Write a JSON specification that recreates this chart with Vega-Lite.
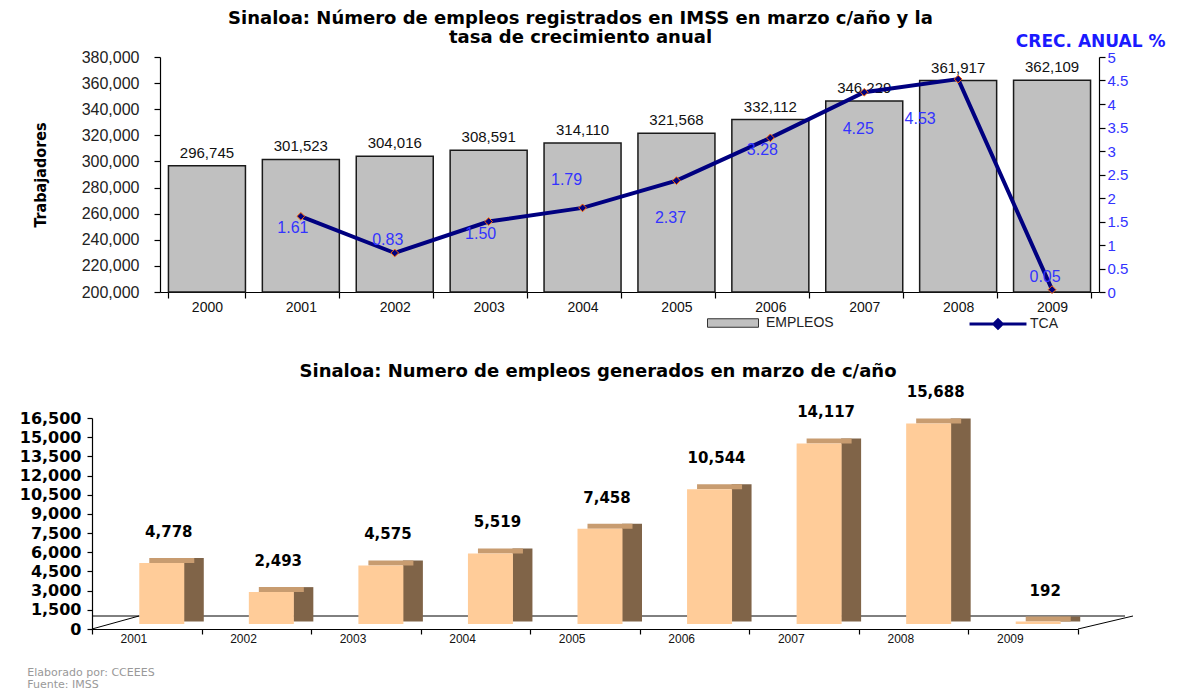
{
  "$schema": "https://vega.github.io/schema/vega-lite/v6.json",
  "background": "white",
  "padding": {"left": 19, "top": 10, "right": 5, "bottom": 0},
  "config": {
    "font": "Liberation Sans",
    "view": {"stroke": null},
    "axis": {"grid": false, "domainColor": "#000", "tickColor": "#000", "labelColor": "#111", "domainWidth": 1.2, "tickWidth": 1.2}
  },
  "align": "none",
  "spacing": 49,
  "title": {
    "text": ["Elaborado por:  CCEEES", "Fuente: IMSS"],
    "orient": "bottom", "anchor": "start", "frame": "bounds",
    "fontSize": 11, "fontWeight": "normal", "color": "#999999",
    "dx": 8, "offset": 23, "lineHeight": 12, "font": "DejaVu Sans"
  },
  "datasets": {
    "top": [
      {"anio": "2000", "empleos": 296745, "tca": null},
      {"anio": "2001", "empleos": 301523, "tca": 1.61},
      {"anio": "2002", "empleos": 304016, "tca": 0.83},
      {"anio": "2003", "empleos": 308591, "tca": 1.50},
      {"anio": "2004", "empleos": 314110, "tca": 1.79},
      {"anio": "2005", "empleos": 321568, "tca": 2.37},
      {"anio": "2006", "empleos": 332112, "tca": 3.28},
      {"anio": "2007", "empleos": 346229, "tca": 4.25},
      {"anio": "2008", "empleos": 361917, "tca": 4.53},
      {"anio": "2009", "empleos": 362109, "tca": 0.05}
    ],
    "bottom": [
      {"anio": "2001", "generados": 4778},
      {"anio": "2002", "generados": 2493},
      {"anio": "2003", "generados": 4575},
      {"anio": "2004", "generados": 5519},
      {"anio": "2005", "generados": 7458},
      {"anio": "2006", "generados": 10544},
      {"anio": "2007", "generados": 14117},
      {"anio": "2008", "generados": 15688},
      {"anio": "2009", "generados": 192}
    ]
  },
  "vconcat": [
    {
      "width": 1007,
      "height": 235,
      "title": {
        "text": ["Sinaloa: Número de empleos registrados en IMSS en marzo c/año y la", "tasa de crecimiento anual"],
        "font": "DejaVu Sans", "fontSize": 18, "fontWeight": "bold", "color": "#000",
        "anchor": "middle", "dx": -15, "lineHeight": 19, "offset": -15
      },
      "data": {"name": "top"},
      "encoding": {
        "x": {
          "field": "anio", "type": "ordinal",
          "scale": {"range": [68, 1007], "paddingInner": 0.18, "paddingOuter": 0.09},
          "axis": {"title": null, "labelAngle": 0, "labelFontSize": 14, "labelColor": "#111", "tickBand": "extent", "labelPadding": 2, "tickSize": 6}
        }
      },
      "layer": [
        {
          "layer": [
            {
              "mark": {"type": "bar", "stroke": "#1a1a1a", "strokeWidth": 1.5},
              "encoding": {
                "y": {
                  "field": "empleos", "type": "quantitative",
                  "scale": {"domain": [200000, 380000], "zero": false, "nice": false},
                  "axis": {
                    "title": "Trabajadores", "format": ",.0f", "offset": -68,
                    "values": [200000, 220000, 240000, 260000, 280000, 300000, 320000, 340000, 360000, 380000],
                    "titleFont": "'Liberation Sans Narrow', 'DejaVu Sans Condensed', 'Liberation Sans'", "titleFontSize": 16, "titleFontWeight": "bold", "titleColor": "#000",
                    "labelFontSize": 16, "labelColor": "#222", "labelPadding": 15, "titlePadding": 33, "tickSize": 6
                  }
                },
                "y2": {"datum": 200000},
                "fill": {
                  "datum": "EMPLEOS", "type": "nominal",
                  "scale": {"domain": ["EMPLEOS"], "range": ["#C0C0C0"]},
                  "legend": {
                    "title": null, "orient": "none", "legendX": 632, "legendY": 257,
                    "symbolType": "M-3,-0.5H3V0.5H-3Z", "symbolSize": 289,
                    "symbolStrokeColor": "#333", "symbolStrokeWidth": 1,
                    "labelFontSize": 14, "labelColor": "#222", "labelOffset": 24
                  }
                }
              }
            },
            {
              "mark": {"type": "text", "fontSize": 15, "color": "#111", "dy": -13},
              "encoding": {
                "y": {
                  "field": "empleos", "type": "quantitative",
                  "scale": {"domain": [200000, 380000], "zero": false, "nice": false},
                  "axis": {
                    "title": "Trabajadores", "format": ",.0f", "offset": -68,
                    "values": [200000, 220000, 240000, 260000, 280000, 300000, 320000, 340000, 360000, 380000],
                    "titleFont": "'Liberation Sans Narrow', 'DejaVu Sans Condensed', 'Liberation Sans'", "titleFontSize": 16, "titleFontWeight": "bold", "titleColor": "#000",
                    "labelFontSize": 16, "labelColor": "#222", "labelPadding": 15, "titlePadding": 33, "tickSize": 6
                  }
                },
                "text": {"field": "empleos", "type": "quantitative", "format": ","}
              }
            }
          ]
        },
        {
          "transform": [{"filter": "datum.tca != null"}],
          "encoding": {
            "y": {
              "field": "tca", "type": "quantitative",
              "scale": {"domain": [0, 5], "nice": false},
              "axis": {
                "orient": "right", "title": "CREC. ANUAL %",
                "values": [0, 0.5, 1, 1.5, 2, 2.5, 3, 3.5, 4, 4.5, 5],
                "labelExpr": "datum.value + ''",
                "labelFontSize": 15, "labelColor": "#3333FF", "tickSize": 6,
                "titleAngle": 0, "titleX": 66, "titleY": -16, "titleAlign": "right", "titleBaseline": "middle",
                "titleFont": "DejaVu Sans", "titleFontSize": 17, "titleFontWeight": "bold", "titleColor": "#1a1aff"
              }
            }
          },
          "layer": [
            {
              "mark": {"type": "line", "strokeWidth": 4},
              "encoding": {
                "stroke": {
                  "datum": "TCA", "type": "nominal",
                  "scale": {"domain": ["TCA"], "range": ["#000080"]},
                  "legend": {
                    "title": null, "orient": "none", "legendX": 896, "legendY": 257,
                    "symbolType": "M-3.35,0H3.35M-0.5,0L0,-0.5L0.5,0L0,0.5Z", "symbolSize": 289,
                    "symbolStrokeWidth": 3, "symbolFillColor": "#000080",
                    "labelFontSize": 14, "labelColor": "#222", "labelOffset": 22
                  }
                }
              }
            },
            {
              "mark": {"type": "point", "shape": "diamond", "filled": true, "fill": "#000080", "stroke": "#FF6600", "strokeWidth": 1, "size": 60, "opacity": 1},
              "encoding": {}
            },
            {
              "transform": [{"filter": "indexof(['2001','2003','2006'], datum.anio) >= 0"}],
              "mark": {"type": "text", "color": "#3333FF", "fontSize": 16, "dx": -8, "dy": 12},
              "encoding": {"text": {"field": "tca", "type": "quantitative", "format": ".2f"}}
            },
            {
              "transform": [{"filter": "indexof(['2005','2007'], datum.anio) >= 0"}],
              "mark": {"type": "text", "color": "#3333FF", "fontSize": 16, "dx": -6, "dy": 37},
              "encoding": {"text": {"field": "tca", "type": "quantitative", "format": ".2f"}}
            },
            {
              "transform": [{"filter": "datum.anio == '2008'"}],
              "mark": {"type": "text", "color": "#3333FF", "fontSize": 16, "dx": -38, "dy": 40},
              "encoding": {"text": {"field": "tca", "type": "quantitative", "format": ".2f"}}
            },
            {
              "transform": [{"filter": "indexof(['2002','2009'], datum.anio) >= 0"}],
              "mark": {"type": "text", "color": "#3333FF", "fontSize": 16, "dx": -7, "dy": -13},
              "encoding": {"text": {"field": "tca", "type": "quantitative", "format": ".2f"}}
            },
            {
              "transform": [{"filter": "datum.anio == '2004'"}],
              "mark": {"type": "text", "color": "#3333FF", "fontSize": 16, "dx": -16, "dy": -28},
              "encoding": {"text": {"field": "tca", "type": "quantitative", "format": ".2f"}}
            }
          ]
        }
      ],
      "resolve": {"scale": {"y": "independent"}}
    },
    {
      "width": 986,
      "height": 211,
      "title": {
        "text": "Sinaloa: Numero de empleos generados en marzo de c/año",
        "font": "DejaVu Sans", "fontSize": 18, "fontWeight": "bold", "color": "#000",
        "anchor": "middle", "dx": 13, "offset": 4
      },
      "data": {"name": "bottom"},
      "layer": [
        {
          "data": {"values": [{}]},
          "mark": {"type": "rule", "color": "#000", "strokeWidth": 1, "xOffset": 47, "x2Offset": 47, "yOffset": -13},
          "encoding": {
            "y": {
              "datum": 0, "type": "quantitative",
              "scale": {"domain": [0, 16500], "nice": false},
              "axis": {
                "title": null, "format": ",.0f",
                "values": [0, 1500, 3000, 4500, 6000, 7500, 9000, 10500, 12000, 13500, 15000, 16500],
                "labelFont": "DejaVu Sans", "labelFontWeight": "bold", "labelFontSize": 16, "labelColor": "#000", "tickSize": 5, "labelPadding": 6
              }
            }
          }
        },
        {
          "data": {"values": [{}]},
          "mark": {"type": "rule", "color": "#000", "strokeWidth": 1, "x2Offset": 47, "y2Offset": -13},
          "encoding": {
            "x": {"datum": "2001", "type": "ordinal", "bandPosition": 0},
            "x2": {"datum": "2001", "bandPosition": 0},
            "y": {
              "datum": 0, "type": "quantitative",
              "scale": {"domain": [0, 16500], "nice": false},
              "axis": {
                "title": null, "format": ",.0f",
                "values": [0, 1500, 3000, 4500, 6000, 7500, 9000, 10500, 12000, 13500, 15000, 16500],
                "labelFont": "DejaVu Sans", "labelFontWeight": "bold", "labelFontSize": 16, "labelColor": "#000", "tickSize": 5, "labelPadding": 6
              }
            },
            "y2": {"datum": 0}
          }
        },
        {
          "data": {"values": [{}]},
          "mark": {"type": "rule", "color": "#000", "strokeWidth": 1, "x2Offset": 55, "y2Offset": -13},
          "encoding": {
            "x": {"datum": "2009", "type": "ordinal", "bandPosition": 1},
            "x2": {"datum": "2009", "bandPosition": 1},
            "y": {
              "datum": 0, "type": "quantitative",
              "scale": {"domain": [0, 16500], "nice": false},
              "axis": {
                "title": null, "format": ",.0f",
                "values": [0, 1500, 3000, 4500, 6000, 7500, 9000, 10500, 12000, 13500, 15000, 16500],
                "labelFont": "DejaVu Sans", "labelFontWeight": "bold", "labelFontSize": 16, "labelColor": "#000", "tickSize": 5, "labelPadding": 6
              }
            },
            "y2": {"datum": 0}
          }
        },
        {
          "mark": {"type": "bar", "color": "#806448", "width": 20, "xOffset": 47, "yOffset": -10, "y2Offset": -7.5},
          "encoding": {
            "x": {"field": "anio", "type": "ordinal"},
            "y": {
              "field": "generados", "type": "quantitative",
              "scale": {"domain": [0, 16500], "nice": false},
              "axis": {
                "title": null, "format": ",.0f",
                "values": [0, 1500, 3000, 4500, 6000, 7500, 9000, 10500, 12000, 13500, 15000, 16500],
                "labelFont": "DejaVu Sans", "labelFontWeight": "bold", "labelFontSize": 16, "labelColor": "#000", "tickSize": 5, "labelPadding": 6
              }
            },
            "y2": {"datum": 0}
          }
        },
        {
          "mark": {"type": "bar", "color": "#C89C70", "width": 45, "xOffset": 25, "yOffset": -10, "y2Offset": -5},
          "encoding": {
            "x": {"field": "anio", "type": "ordinal"},
            "y": {
              "field": "generados", "type": "quantitative",
              "scale": {"domain": [0, 16500], "nice": false},
              "axis": {
                "title": null, "format": ",.0f",
                "values": [0, 1500, 3000, 4500, 6000, 7500, 9000, 10500, 12000, 13500, 15000, 16500],
                "labelFont": "DejaVu Sans", "labelFontWeight": "bold", "labelFontSize": 16, "labelColor": "#000", "tickSize": 5, "labelPadding": 6
              }
            },
            "y2": {"field": "generados"}
          }
        },
        {
          "mark": {"type": "bar", "color": "#FFCC99", "width": 45, "xOffset": 15, "yOffset": -5, "y2Offset": -5},
          "encoding": {
            "x": {
              "field": "anio", "type": "ordinal",
              "scale": {"paddingInner": 0, "paddingOuter": 0},
              "axis": {"title": null, "labelAngle": 0, "labelFontSize": 12, "labelColor": "#111", "tickBand": "extent", "labelPadding": 4, "tickSize": 5}
            },
            "y": {
              "field": "generados", "type": "quantitative",
              "scale": {"domain": [0, 16500], "nice": false},
              "axis": {
                "title": null, "format": ",.0f",
                "values": [0, 1500, 3000, 4500, 6000, 7500, 9000, 10500, 12000, 13500, 15000, 16500],
                "labelFont": "DejaVu Sans", "labelFontWeight": "bold", "labelFontSize": 16, "labelColor": "#000", "tickSize": 5, "labelPadding": 6
              }
            },
            "y2": {"datum": 0}
          }
        },
        {
          "mark": {"type": "text", "font": "DejaVu Sans", "fontWeight": "bold", "fontSize": 15, "color": "#000", "dx": 22, "dy": -36},
          "encoding": {
            "x": {"field": "anio", "type": "ordinal"},
            "y": {
              "field": "generados", "type": "quantitative",
              "scale": {"domain": [0, 16500], "nice": false},
              "axis": {
                "title": null, "format": ",.0f",
                "values": [0, 1500, 3000, 4500, 6000, 7500, 9000, 10500, 12000, 13500, 15000, 16500],
                "labelFont": "DejaVu Sans", "labelFontWeight": "bold", "labelFontSize": 16, "labelColor": "#000", "tickSize": 5, "labelPadding": 6
              }
            },
            "text": {"field": "generados", "type": "quantitative", "format": ","}
          }
        }
      ]
    }
  ]
}
